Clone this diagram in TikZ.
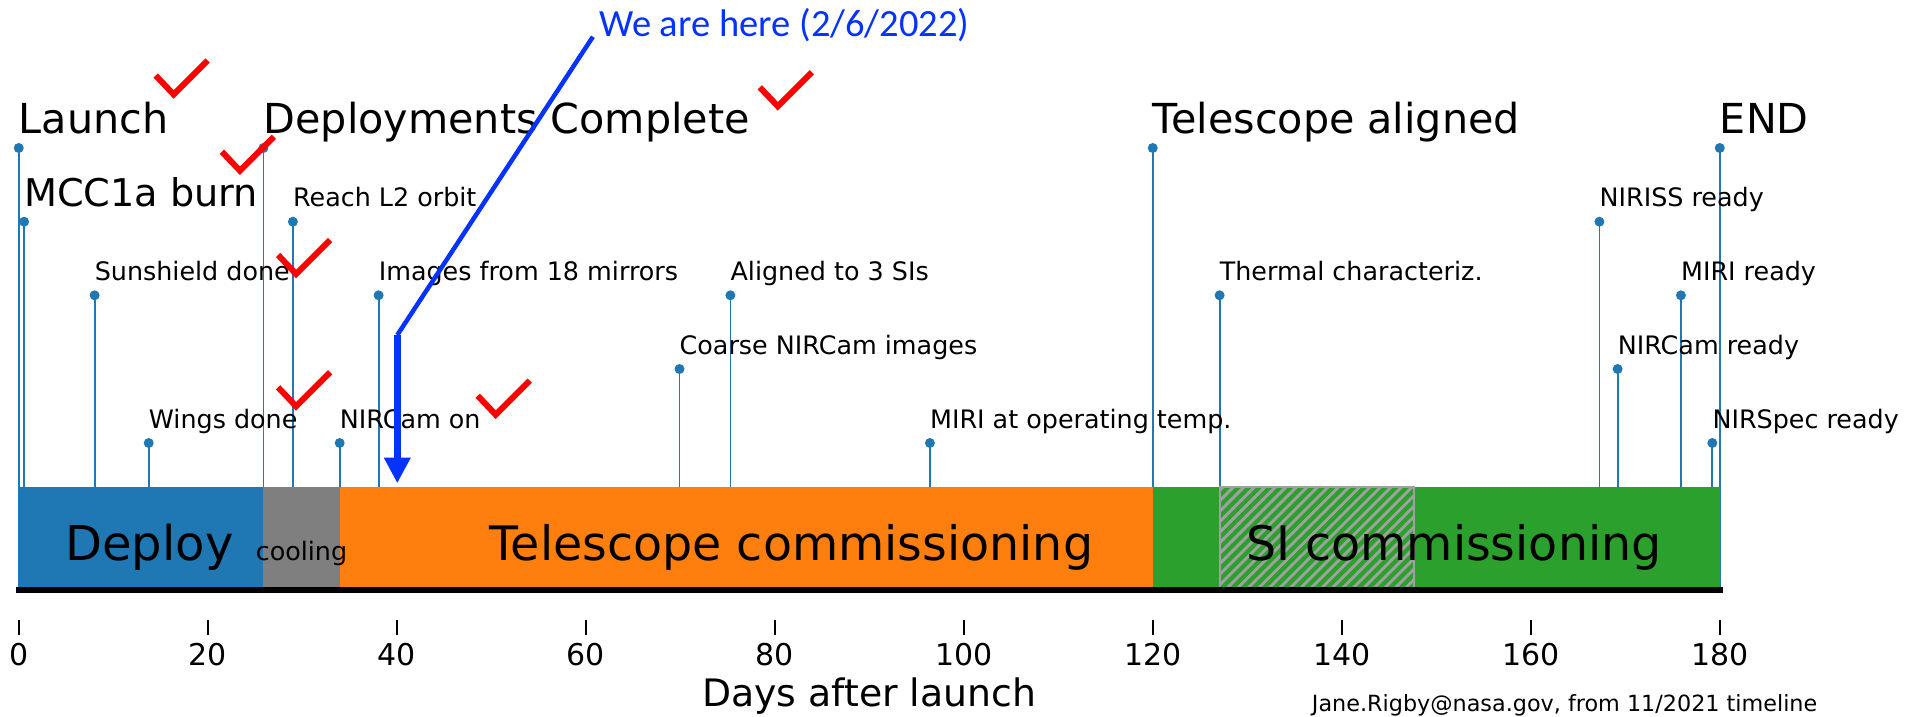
\documentclass[tikz,border=0pt]{standalone}
\usepackage{fontspec}
\setmainfont{DejaVu Sans}
\newfontfamily\carlitofont{Carlito}
\usetikzlibrary{arrows.meta}
\definecolor{cZero}{HTML}{1F77B4}
\definecolor{cGray}{HTML}{7F7F7F}
\definecolor{cOrange}{HTML}{FF7F0E}
\definecolor{cGreen}{HTML}{2CA02C}
\definecolor{hatchgray}{HTML}{A0A0A0}
\definecolor{hereblue}{RGB}{4,50,255}
\definecolor{checkred}{HTML}{FF0000}
\tikzset{
  evmark/.style={circle, fill=cZero, draw=none, inner sep=0pt, minimum size=10pt},
  stemline/.style={draw=cZero, line width=1.8pt},
  lblbig/.style={font=\fontsize{41.3}{49}\selectfont, inner sep=0pt, anchor=base west},
  lblmid/.style={font=\fontsize{38.2}{45}\selectfont, inner sep=0pt, anchor=base west},
  lblsmall/.style={font=\fontsize{25.4}{30}\selectfont, inner sep=0pt, anchor=base west},
  barlabel/.style={inner sep=0pt, anchor=base},
  ticklabel/.style={font=\fontsize{30}{36}\selectfont, inner sep=0pt, anchor=base},
  chkstroke/.style={draw=checkred, line width=6pt, line join=miter, line cap=butt},
}
\newcommand\event[3]{\node[evmark] (m#1) at (#2,#3) {};
  \coordinate (b#1) at (#2,590);
  \draw[stemline] (m#1.center) -- (b#1);}
\newcommand\elabel[3]{\node[#2] (t#1) at ([shift={(0,-15)}]m#1.center) {#3};}
\newcommand\chk[3]{\coordinate (c#1) at (#2,#3); \draw[chkstroke] (c#1) -- ++(18,19) -- ++(34,-34);}
\begin{document}
\begin{tikzpicture}[x=1pt,y=-1pt]
\useasboundingbox (0,0) rectangle (1914,717);

% stems and markers
\event{launch}{18.75}{148}
\event{mcc}{24.1}{221.7}
\event{sun}{94.6}{295.3}
\event{wings}{148.7}{443}
\event{depl}{263.4}{148}
\event{ltwo}{292.9}{221.7}
\event{ncon}{339.7}{443}
\event{img}{378.6}{295.3}
\event{coarse}{679.5}{369}
\event{alth}{730.4}{295.3}
\event{miriT}{929.9}{443}
\event{telal}{1152.75}{148}
\event{therm}{1219.6}{295.3}
\event{niriss}{1599.4}{221.7}
\event{ncr}{1617.6}{369}
\event{miri}{1680.9}{295.3}
\event{nirspec}{1712.3}{443}
\event{end}{1719.75}{148}

% labels
\elabel{launch}{lblbig}{Launch}
\elabel{mcc}{lblmid}{MCC1a burn}
\elabel{sun}{lblsmall}{Sunshield done}
\elabel{wings}{lblsmall}{Wings done}
\elabel{depl}{lblbig}{Deployments Complete}
\elabel{ltwo}{lblsmall}{Reach L2 orbit}
\elabel{ncon}{lblsmall}{NIRCam on}
\elabel{img}{lblsmall}{Images from 18 mirrors}
\elabel{coarse}{lblsmall}{Coarse NIRCam images}
\elabel{alth}{lblsmall}{Aligned to 3 SIs}
\elabel{miriT}{lblsmall}{MIRI at operating temp.}
\elabel{telal}{lblbig}{Telescope aligned}
\elabel{therm}{lblsmall}{Thermal characteriz.}
\elabel{niriss}{lblsmall}{NIRISS ready}
\elabel{ncr}{lblsmall}{NIRCam ready}
\elabel{miri}{lblsmall}{MIRI ready}
\elabel{nirspec}{lblsmall}{NIRSpec ready}
\elabel{end}{lblbig}{END}

% phase bars
\fill[cZero] (18.75,486.7) rectangle (263.4,590);
\fill[cGray] (263.4,486.7) rectangle (340,590);
\fill[cOrange] (340,486.7) rectangle (1152.75,590);
\fill[cGreen] (1152.75,486.7) rectangle (1719.75,590);
\begin{scope}
  \clip (1219.6,486.7) rectangle (1414,588);
  \foreach \k in {0,...,31} {
    \draw[hatchgray, line width=3pt] (1099.6+\k*10.5,600) -- ++(125,-125);
  }
\end{scope}
\draw[hatchgray, line width=2pt] (1219.6,486.7) rectangle (1414,588);

\node[barlabel, font=\fontsize{48}{56}\selectfont] (lDeploy) at (149.5,560.5) {Deploy};
\node[barlabel, font=\fontsize{25.4}{30}\selectfont] (lCool) at (301.5,560.5) {cooling};
\node[barlabel, font=\fontsize{47.5}{56}\selectfont] (lTel) at (791.6,560) {Telescope commissioning};
\node[barlabel, font=\fontsize{47.5}{56}\selectfont] (lSI) at (1453.8,560) {SI commissioning};

% axis
\coordinate (axL) at (18.75,590);
\coordinate (axR) at (1719.75,590);
\draw[black, line width=6.5pt, line cap=rect] (axL) -- (axR);
\foreach \d in {0,20,...,180} {
  \coordinate (tk\d) at ({18.75+9.45*\d},620);
  \draw[black, line width=2.5pt] (tk\d) -- ++(0,15);
  \node[ticklabel] (tl\d) at ({18.75+9.45*\d},665) {\d};
}
\node[font=\fontsize{37.8}{45}\selectfont, inner sep=0pt, anchor=base] (xlabel) at (869.25,706) {Days after launch};
\node[font=\fontsize{22.3}{27}\selectfont, inner sep=0pt, anchor=base east] (credit) at (1817.5,711) {Jane.Rigby@nasa.gov, from 11/2021 timeline};

% check marks
\chk{a}{155.7}{75.5}
\chk{b}{221.9}{151.7}
\chk{c}{278.1}{255}
\chk{d}{278.1}{387.3}
\chk{e}{477.7}{395.7}
\chk{f}{759.8}{87.3}

% we are here
\node[font=\carlitofont\fontsize{38.5}{46}\selectfont, text=hereblue, inner sep=0pt, anchor=base west] (here) at (599,36.7) {We are here (2/6/2022)};
\coordinate (hereTop) at (592.9,36.7);
\coordinate (hereKnee) at (397.3,335);
\coordinate (hereTip) at (397.3,483.3);
\draw[hereblue, line width=4.5pt] (hereTop) -- (hereKnee);
\draw[hereblue, line width=7.5pt, -{Triangle[length=25.6pt,width=25pt]}] (hereKnee) -- (hereTip);
\end{tikzpicture}
\end{document}
